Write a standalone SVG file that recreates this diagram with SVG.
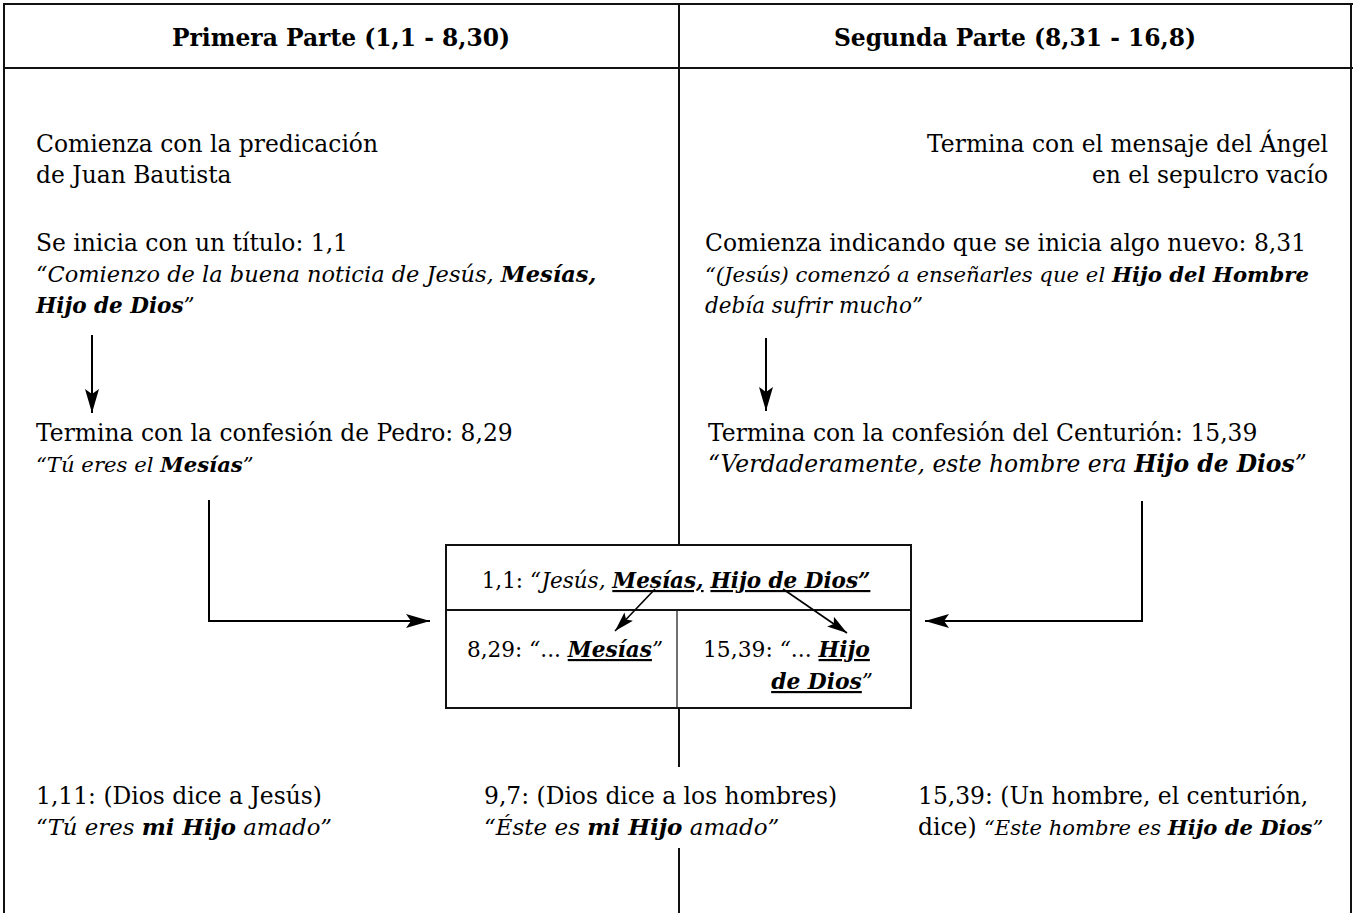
<svg xmlns="http://www.w3.org/2000/svg" width="1356" height="913" viewBox="0 0 1356 913">
<style>
.t{font-family:"DejaVu Serif","Liberation Serif",serif;font-size:23.4px;fill:#000}
.i{font-style:italic}
.b{font-weight:bold}
.bi{font-weight:bold;font-style:italic}
.u{text-decoration:underline}
.ln{stroke:#000;stroke-width:2;fill:none}
.frame{stroke:#111;stroke-width:2;fill:none}
</style>
<defs>
<marker id="ah" viewBox="0 0 24 14" refX="24" refY="7" markerWidth="24" markerHeight="14" markerUnits="userSpaceOnUse" orient="auto">
<path d="M0,0 L24,7 L0,14 L5,7 Z" fill="#000"/>
</marker>
<marker id="ahs" viewBox="0 0 20 12" refX="20" refY="6" markerWidth="20" markerHeight="12" markerUnits="userSpaceOnUse" orient="auto">
<path d="M0,0 L20,6 L0,12 L4,6 Z" fill="#000"/>
</marker>
</defs>
<rect x="0" y="0" width="1356" height="913" fill="#fff"/>
<g id="frame">
<line class="frame" x1="3" y1="4" x2="1353" y2="4"/>
<line class="frame" x1="3" y1="68" x2="1353" y2="68"/>
<line class="frame" x1="4" y1="3" x2="4" y2="913"/>
<line class="frame" x1="1351" y1="3" x2="1351" y2="913"/>
<line class="frame" x1="679" y1="4" x2="679" y2="545"/>
<line class="frame" x1="679" y1="708" x2="679" y2="767"/>
<line class="frame" x1="679" y1="848" x2="679" y2="913"/>
</g>
<g id="header">
<text class="t b" x="341" y="46" text-anchor="middle">Primera Parte (1,1 - 8,30)</text>
<text class="t b" x="1015" y="46" text-anchor="middle">Segunda Parte (8,31 - 16,8)</text>
</g>
<g id="left-start">
<text class="t" x="36" y="152">Comienza con la predicación</text>
<text class="t" x="36" y="183">de Juan Bautista</text>
</g>
<g id="left-title">
<text class="t" x="36" y="251">Se inicia con un título: 1,1</text>
<text class="t i" x="36" y="282" style="font-size:22.5px">“Comienzo de la buena noticia de Jesús, <tspan class="bi">Mesías,</tspan></text>
<text class="t i" x="36" y="313" style="font-size:21.5px"><tspan class="bi">Hijo de Dios</tspan>”</text>
</g>
<g id="left-end">
<text class="t" x="36" y="441">Termina con la confesión de Pedro: 8,29</text>
<text class="t i" x="36" y="472" style="font-size:21.2px">“Tú eres el <tspan class="bi">Mesías</tspan>”</text>
</g>
<g id="right-end-msg">
<text class="t" x="1328" y="152" text-anchor="end">Termina con el mensaje del Ángel</text>
<text class="t" x="1328" y="183" text-anchor="end">en el sepulcro vacío</text>
</g>
<g id="right-start">
<text class="t" x="705" y="251">Comienza indicando que se inicia algo nuevo: 8,31</text>
<text class="t i" x="705" y="282" style="font-size:21.2px">“(Jesús) comenzó a enseñarles que el <tspan class="bi">Hijo del Hombre</tspan></text>
<text class="t i" x="705" y="313" style="font-size:21.5px">debía sufrir mucho”</text>
</g>
<g id="right-end">
<text class="t" x="708" y="441">Termina con la confesión del Centurión: 15,39</text>
<text class="t i" x="708" y="472">“Verdaderamente, este hombre era <tspan class="bi">Hijo de Dios</tspan>”</text>
</g>
<g id="center-box">
<rect class="frame" x="446" y="545" width="465" height="163"/>
<line class="frame" x1="446" y1="610" x2="911" y2="610"/>
<line x1="677" y1="610" x2="677" y2="708" stroke="#222" stroke-width="1.3"/>
<text class="t" x="676" y="588" text-anchor="middle" style="font-size:21.5px">1,1: <tspan class="i">“Jesús, </tspan><tspan class="bi u">Mesías,</tspan> <tspan class="bi u">Hijo de Dios”</tspan></text>
<text class="t" x="467" y="657" style="font-size:21.6px">8,29: <tspan class="i">“</tspan>... <tspan class="bi u">Mesías</tspan><tspan class="i">”</tspan></text>
<text class="t" x="703" y="657" style="font-size:21.8px">15,39: <tspan class="i">“</tspan>... <tspan class="bi u">Hijo</tspan></text>
<text class="t" x="873" y="689" text-anchor="end" style="font-size:21.8px"><tspan class="bi u">de Dios</tspan><tspan class="i">”</tspan></text>
</g>
<g id="bottom-left">
<text class="t" x="36" y="804">1,11: (Dios dice a Jesús)</text>
<text class="t i" x="36" y="835" style="font-size:22.8px">“Tú eres <tspan class="bi">mi Hijo</tspan> amado”</text>
</g>
<g id="bottom-middle">
<text class="t" x="484" y="804">9,7: (Dios dice a los hombres)</text>
<text class="t i" x="484" y="835" style="font-size:23px">“Éste es <tspan class="bi">mi Hijo</tspan> amado”</text>
</g>
<g id="bottom-right">
<text class="t" x="918" y="804">15,39: (Un hombre, el centurión,</text>
<text class="t" x="918" y="835">dice) <tspan class="i" style="font-size:21.1px">“Este hombre es </tspan><tspan class="bi" style="font-size:21.1px">Hijo de Dios</tspan><tspan class="i" style="font-size:21.1px">”</tspan></text>
</g>
<g id="connectors">
<line class="ln" x1="92" y1="335" x2="92" y2="413" marker-end="url(#ah)"/>
<line class="ln" x1="766" y1="338" x2="766" y2="411" marker-end="url(#ah)"/>
<polyline class="ln" points="209,500 209,621 430,621" marker-end="url(#ah)"/>
<polyline class="ln" points="1142,501 1142,621 925,621" marker-end="url(#ah)"/>
<line x1="655" y1="589" x2="615" y2="631" stroke="#000" stroke-width="1.6" marker-end="url(#ahs)"/>
<line x1="783" y1="589" x2="847" y2="633" stroke="#000" stroke-width="1.6" marker-end="url(#ahs)"/>
</g>
</svg>
